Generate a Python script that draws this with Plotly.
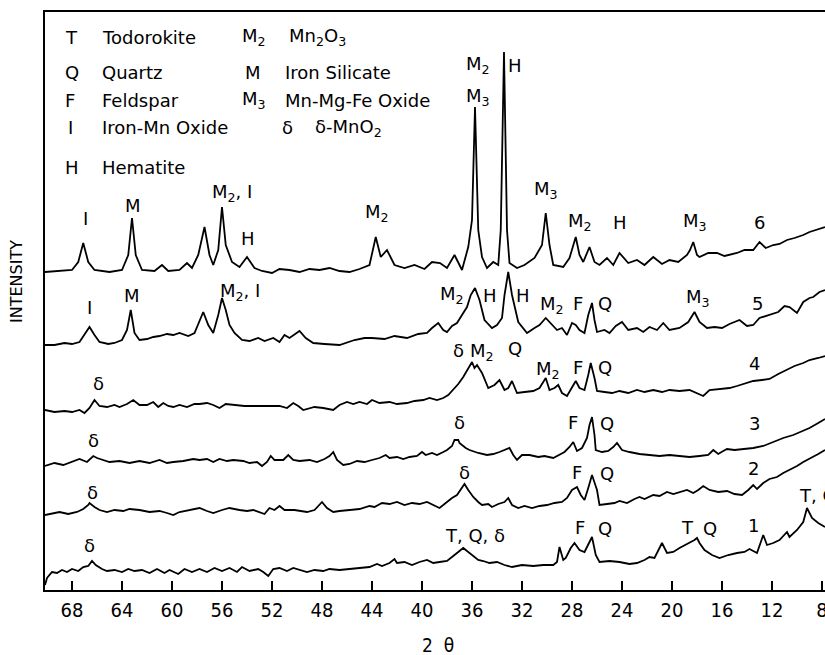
import plotly.graph_objects as go

# ---------------- data (2-theta in degrees, intensity in arbitrary stacked units) ----------------
theta_6 = [70.16, 68.96, 68.0, 67.5, 67.1, 66.7, 66.2, 65.0, 64.0, 63.5, 63.2, 62.9, 62.4, 61.4, 60.8, 60.3,
           59.4, 58.8, 58.4, 57.9, 57.4, 57.0, 56.7, 56.3, 56.0, 55.7, 55.2, 54.6, 54.0, 53.4, 52.8, 52.0,
           51.4, 50.6, 49.8, 49.0, 48.2, 47.4, 46.6, 45.8, 45.0, 44.2, 43.7, 43.3, 42.8, 42.2, 41.4, 40.6,
           39.8, 39.2, 38.56, 38.0, 37.4, 36.8, 36.3, 36.0, 35.76, 35.5, 35.2, 34.8, 34.3, 33.9, 33.7, 33.44,
           33.2, 33.0, 32.4, 31.8, 31.0, 30.4, 30.1, 29.8, 29.5, 28.7, 28.2, 27.7, 27.4, 27.1, 26.6, 26.2,
           25.8, 25.2, 24.7, 24.2, 23.5, 22.8, 22.2, 21.5, 20.8, 20.2, 19.5, 18.8, 18.56, 18.3, 18.0, 17.8,
           17.1, 16.4, 15.8, 14.8, 14.2, 13.5, 13.0, 12.5, 11.9, 11.4, 10.8, 10.2, 9.5, 9.0, 8.3, 7.76]
int_6 = [323, 324, 325, 333, 352, 333, 325, 323, 325, 340, 377, 340, 325, 324, 330, 324,
         325, 332, 327, 340, 368, 340, 330, 345, 388, 350, 333, 328, 338, 327, 324, 322,
         326, 325, 323, 326, 325, 327, 324, 323, 326, 330, 358, 338, 345, 330, 327, 330,
         326, 333, 332, 327, 340, 325, 348, 375, 488, 365, 338, 327, 333, 330, 365, 543,
         365, 332, 327, 330, 337, 350, 382, 350, 330, 328, 337, 358, 340, 333, 348, 333,
         330, 337, 330, 342, 332, 335, 330, 338, 331, 335, 333, 340, 345, 353, 340, 338,
         342, 342, 339, 342, 345, 345, 353, 347, 350, 351, 355, 357, 360, 363, 366, 368]

theta_5 = [70.16, 69.4, 68.6, 68.0, 67.4, 67.0, 66.6, 66.2, 65.8, 65.1, 64.6, 64.0, 63.6, 63.3, 63.0, 62.6,
           62.0, 61.5, 61.0, 60.4, 59.9, 59.4, 58.7, 58.2, 57.8, 57.5, 57.1, 56.7, 56.3, 56.0, 55.7, 55.4,
           55.0, 54.4, 53.8, 53.1, 52.6, 51.9, 51.4, 51.0, 50.6, 49.8, 49.3, 48.7, 47.8, 46.6, 45.4, 44.6,
           44.0, 43.0, 42.2, 41.2, 40.3, 39.6, 39.2, 38.7, 38.3, 38.0, 37.6, 37.2, 36.8, 36.4, 36.1, 35.76,
           35.4, 35.0, 34.4, 34.0, 33.6, 33.4, 33.1, 32.8, 32.3, 31.6, 31.0, 30.6, 30.1, 29.6, 29.2, 28.8,
           28.4, 28.0, 27.7, 27.4, 27.0, 26.7, 26.4, 26.2, 26.0, 25.4, 25.0, 24.5, 24.0, 23.5, 22.8, 22.3,
           21.8, 21.2, 20.7, 20.2, 19.4, 18.7, 18.2, 17.8, 17.2, 16.6, 16.0, 15.4, 14.6, 14.0, 13.5, 13.0,
           12.2, 11.5, 11.0, 10.6, 10.0, 9.5, 9.0, 8.7, 8.2, 7.76]
int_5 = [250, 250, 252, 251, 253, 260, 268, 260, 253, 251, 252, 255, 265, 285, 262, 255,
         256, 258, 259, 261, 260, 262, 259, 262, 275, 283, 270, 262, 280, 297, 285, 270,
         262, 255, 254, 257, 254, 257, 253, 260, 257, 264, 257, 252, 251, 250, 255, 257,
         257, 256, 259, 257, 261, 262, 267, 272, 265, 263, 269, 272, 280, 288, 300, 307,
         295, 275, 267, 270, 277, 300, 323, 300, 273, 262, 267, 270, 277, 270, 265, 267,
         260, 272, 270, 265, 262, 280, 292, 275, 263, 265, 262, 269, 273, 265, 267, 263,
         268, 265, 272, 265, 267, 273, 283, 273, 267, 268, 267, 271, 275, 269, 270, 277,
         280, 283, 289, 288, 282, 293, 297, 298, 303, 305]

theta_4 = [70.16, 69.4, 68.6, 68.0, 67.4, 67.0, 66.6, 66.2, 65.8, 65.2, 64.6, 64.2, 63.6, 63.1, 62.6, 62.0,
           61.5, 61.1, 60.7, 60.3, 59.9, 59.4, 58.8, 58.2, 57.8, 57.2, 56.7, 56.2, 55.7, 55.1, 54.2, 53.2,
           52.2, 51.4, 50.8, 50.3, 49.9, 49.5, 48.6, 47.9, 47.1, 46.6, 46.0, 45.5, 45.0, 44.4, 44.0, 43.4,
           42.6, 42.0, 41.2, 40.6, 39.9, 39.4, 38.8, 38.3, 37.9, 37.5, 37.1, 36.7, 36.3, 36.0, 35.8, 35.6,
           35.2, 34.7, 34.2, 33.8, 33.4, 33.1, 32.8, 32.4, 31.8, 31.1, 30.6, 30.1, 29.8, 29.4, 29.1, 28.8,
           28.4, 28.0, 27.7, 27.4, 27.0, 26.7, 26.5, 26.2, 26.0, 25.4, 24.8, 24.2, 23.5, 22.8, 22.2, 21.5,
           20.8, 20.2, 19.4, 18.6, 18.0, 17.5, 17.0, 16.2, 15.4, 14.8, 14.2, 13.5, 12.8, 12.2, 11.5, 10.8,
           10.2, 9.5, 9.0, 8.3, 7.76]
int_4 = [185, 183, 184, 183, 185, 182, 187, 195, 189, 188, 190, 188, 191, 195, 190, 190,
         193, 188, 192, 189, 188, 190, 188, 191, 191, 192, 190, 187, 191, 190, 189, 189,
         189, 189, 187, 192, 189, 185, 188, 187, 185, 190, 193, 191, 193, 191, 195, 192,
         193, 191, 192, 194, 195, 197, 195, 197, 200, 205, 211, 218, 227, 233, 227, 230,
         222, 207, 210, 215, 205, 207, 214, 202, 203, 204, 207, 217, 205, 207, 210, 202,
         199, 207, 214, 207, 205, 220, 232, 217, 204, 203, 202, 204, 202, 205, 203, 205,
         203, 205, 204, 205, 202, 199, 205, 206, 207, 209, 211, 214, 215, 216, 221, 225,
         229, 232, 235, 237, 239]

theta_3 = [70.16, 69.4, 68.7, 68.0, 67.4, 66.8, 66.3, 66.0, 65.5, 65.0, 64.2, 63.4, 62.6, 61.8, 61.0, 60.4,
           59.9, 59.1, 58.3, 57.8, 57.2, 56.7, 56.2, 55.6, 55.1, 54.3, 53.8, 53.2, 52.8, 52.4, 52.1, 51.8,
           51.1, 50.7, 50.3, 49.8, 49.0, 48.4, 47.8, 47.4, 47.1, 46.8, 46.3, 45.8, 45.2, 44.6, 44.0, 43.4,
           42.9, 42.6, 42.0, 41.5, 41.0, 40.4, 40.0, 39.7, 39.2, 38.8, 38.3, 38.0, 37.6, 37.4, 37.1, 37.0,
           36.8, 36.5, 36.2, 35.5, 34.8, 34.3, 33.8, 33.4, 33.0, 32.7, 32.4, 32.0, 31.4, 30.7, 30.2, 29.5,
           29.0, 28.6, 28.2, 27.9, 27.6, 27.2, 26.8, 26.6, 26.4, 26.2, 26.1, 25.6, 25.1, 24.7, 24.4, 24.0,
           23.4, 22.6, 21.8, 21.0, 20.2, 19.4, 18.6, 17.8, 17.1, 16.7, 16.3, 15.9, 15.6, 15.0, 14.2, 13.5,
           12.7, 11.9, 11.1, 10.3, 9.5, 9.0, 8.3, 7.76]
int_3 = [129, 132, 130, 133, 136, 133, 139, 137, 135, 133, 134, 132, 134, 132, 135, 132,
         133, 134, 136, 135, 136, 133, 136, 134, 135, 134, 132, 133, 129, 133, 139, 135,
         135, 140, 135, 134, 135, 133, 136, 139, 143, 135, 130, 131, 134, 133, 135, 137,
         140, 137, 138, 136, 138, 139, 143, 140, 142, 140, 143, 145, 149, 155, 155, 152,
         150, 147, 145, 142, 140, 141, 143, 145, 147, 140, 135, 140, 140, 138, 139, 137,
         140, 143, 148, 153, 144, 147, 157, 170, 178, 160, 145, 143, 144, 148, 152, 145,
         143, 141, 140, 139, 140, 139, 138, 139, 140, 145, 141, 144, 146, 145, 146, 147,
         149, 153, 157, 160, 164, 167, 172, 176]

theta_2 = [70.16, 69.5, 69.0, 68.3, 67.6, 67.1, 66.7, 66.6, 66.2, 65.8, 65.2, 64.6, 63.9, 63.4, 62.6, 61.8,
           61.0, 60.4, 59.9, 59.4, 58.6, 58.0, 57.8, 57.2, 56.7, 56.0, 55.4, 54.6, 54.0, 53.5, 53.0, 52.6,
           52.2, 51.8, 51.4, 51.0, 50.2, 49.2, 48.6, 48.0, 47.6, 47.1, 46.6, 45.8, 45.0, 44.2, 43.8, 43.2,
           42.6, 42.0, 41.4, 40.8, 40.2, 39.6, 39.1, 38.6, 38.0, 37.6, 37.2, 36.8, 36.6, 36.3, 35.9, 35.5,
           35.2, 34.7, 34.4, 33.9, 33.4, 33.1, 32.8, 32.3, 31.8, 31.2, 30.6, 30.0, 29.4, 28.8, 28.4, 28.0,
           27.6, 27.3, 27.0, 26.7, 26.4, 26.0, 25.8, 25.2, 24.6, 24.2, 23.6, 23.0, 22.6, 22.2, 21.5, 21.0,
           20.4, 19.9, 19.4, 18.8, 18.3, 17.9, 17.5, 17.0, 16.3, 15.6, 15.0, 14.4, 13.9, 13.5, 13.2, 12.7,
           12.2, 11.6, 11.1, 10.6, 10.0, 9.5, 9.0, 8.3, 7.76]
int_2 = [80, 82, 83, 81, 83, 86, 90, 92, 88, 85, 83, 85, 84, 86, 85, 83,
         84, 82, 80, 83, 85, 87, 87, 84, 82, 85, 87, 85, 84, 85, 83, 81,
         87, 85, 89, 85, 85, 83, 85, 93, 87, 83, 84, 85, 86, 89, 88, 92,
         91, 93, 90, 92, 91, 93, 90, 87, 93, 97, 100, 107, 111, 105, 98, 93,
         90, 91, 88, 91, 93, 97, 90, 87, 89, 87, 89, 90, 92, 93, 97, 105,
         108, 100, 95, 107, 120, 105, 90, 91, 92, 94, 92, 96, 98, 96, 100, 99,
         103, 101, 103, 105, 102, 105, 109, 105, 103, 104, 101, 100, 105, 110, 106, 112,
         116, 118, 122, 125, 129, 133, 136, 141, 145]

theta_1 = [70.16, 70.0, 69.6, 69.2, 68.8, 68.4, 68.0, 67.5, 67.1, 66.7, 66.4, 66.1, 65.6, 65.2, 64.6, 64.0,
           63.5, 63.0, 62.4, 61.8, 61.2, 60.6, 60.2, 59.5, 59.0, 58.4, 57.8, 57.2, 56.6, 56.0, 55.4, 54.8,
           54.4, 53.8, 53.1, 52.7, 52.3, 51.9, 51.4, 50.8, 50.3, 49.8, 49.2, 48.6, 47.9, 47.4, 46.6, 45.8,
           45.0, 44.2, 43.6, 43.2, 42.6, 42.2, 42.0, 41.4, 40.8, 40.2, 39.6, 39.1, 38.6, 38.0, 37.5, 37.1,
           36.7, 36.4, 36.0, 35.5, 35.1, 34.6, 34.0, 33.4, 32.8, 32.0, 31.1, 30.3, 29.5, 29.2, 29.0, 28.7,
           28.5, 28.1, 27.8, 27.4, 27.0, 26.7, 26.4, 26.1, 25.8, 25.0, 24.2, 23.4, 22.8, 22.2, 21.8, 21.4,
           20.8, 20.4, 19.9, 19.4, 18.9, 18.6, 18.2, 18.0, 17.8, 17.4, 16.8, 16.2, 15.5, 14.8, 14.2, 13.8,
           13.4, 13.2, 12.7, 12.4, 11.9, 11.4, 10.8, 10.6, 10.0, 9.5, 9.2, 8.8, 8.3, 7.76]
int_1 = [10, 17, 23, 22, 25, 23, 26, 24, 28, 29, 34, 30, 26, 24, 25, 23,
         26, 24, 25, 22, 26, 22, 25, 21, 26, 23, 26, 23, 27, 24, 27, 23,
         28, 24, 26, 23, 19, 26, 27, 24, 27, 25, 23, 25, 24, 26, 25, 26,
         27, 28, 31, 29, 32, 36, 32, 33, 30, 33, 35, 32, 33, 34, 39, 43,
         47, 44, 40, 35, 34, 32, 33, 30, 28, 30, 29, 30, 30, 33, 48, 35,
         37, 47, 52, 45, 43, 50, 58, 40, 33, 34, 33, 31, 32, 35, 38, 37,
         52, 42, 43, 47, 50, 52, 55, 57, 52, 45, 40, 37, 40, 42, 43, 46,
         43, 42, 60, 50, 52, 55, 63, 58, 65, 73, 87, 77, 72, 68]

series = [(theta_6, int_6), (theta_5, int_5), (theta_4, int_4),
          (theta_3, int_3), (theta_2, int_2), (theta_1, int_1)]

tick_vals = [68, 64, 60, 56, 52, 48, 44, 40, 36, 32, 28, 24, 20, 16, 12, 8]

# ---------------- figure ----------------
FONT = "DejaVu Sans"
TICKFONT = "Liberation Sans Narrow, DejaVu Sans Condensed, DejaVu Sans"
LBL = 18

fig = go.Figure()
for th, it in series:
    fig.add_trace(go.Scatter(x=th, y=it, mode="lines",
                             line=dict(color="black", width=1.8),
                             showlegend=False, hoverinfo="skip"))

# peak labels (text, 2theta, intensity position)
peak_labels = [
    ("I", 66.9, 377), ("M", 63.1, 390), ("M<sub>2</sub>, I", 55.2, 402), ("H", 53.9, 357),
    ("M<sub>2</sub>", 43.6, 382), ("M<sub>2</sub>", 35.5, 530), ("M<sub>3</sub>", 35.5, 498),
    ("H", 32.6, 530), ("M<sub>3</sub>", 30.1, 405), ("M<sub>2</sub>", 27.4, 373), ("H", 24.2, 373),
    ("M<sub>3</sub>", 18.2, 373), ("6", 13.0, 373),
    ("I", 66.6, 288), ("M", 63.2, 300), ("M<sub>2</sub>, I", 54.6, 303), ("M<sub>2</sub>", 37.6, 300),
    ("H", 34.6, 300), ("H", 31.9, 300), ("M<sub>2</sub>", 29.6, 290), ("F", 27.5, 292), ("Q", 25.4, 292),
    ("M<sub>3</sub>", 17.9, 297), ("5", 13.2, 292),
    ("δ", 65.9, 212), ("δ", 37.1, 245), ("M<sub>2</sub>", 35.2, 243), ("Q", 32.6, 247),
    ("M<sub>2</sub>", 29.9, 225), ("F", 27.5, 228), ("Q", 25.4, 228), ("4", 13.4, 232),
    ("δ", 66.3, 155), ("δ", 37.0, 173), ("F", 27.9, 173), ("Q", 25.2, 172), ("3", 13.4, 172),
    ("δ", 66.4, 103), ("δ", 36.6, 123), ("F", 27.6, 123), ("Q", 25.2, 122), ("2", 13.5, 127),
    ("δ", 66.6, 50), ("T, Q, δ", 35.8, 60), ("F", 27.4, 68), ("Q", 25.4, 67),
    ("T", 18.8, 68), ("Q", 17.0, 67), ("1", 13.5, 70),
]
annotations = []
for txt, xx, yy in peak_labels:
    annotations.append(dict(text=txt, x=xx, y=yy, xref="x", yref="y", showarrow=False,
                            font=dict(family=FONT, size=LBL, color="black"),
                            xanchor="center", yanchor="middle"))
annotations.append(dict(text="T, G", x=10.0, y=100, xref="x", yref="y", showarrow=False,
                        font=dict(family=FONT, size=LBL, color="black"),
                        xanchor="left", yanchor="middle"))

# plot area in page pixels
PL, PR, PT, PB = 45, 825, 12, 590
def px(xp):
    return (xp - PL) / (PR - PL)
def py(yp):
    return (PB - yp) / (PB - PT)

key_rows = [
    (37, [("T", 63), ("Todorokite", 100), ("M<sub>2</sub>", 240), ("Mn<sub>2</sub>O<sub>3</sub>", 287)]),
    (72, [("Q", 63), ("Quartz", 100), ("M", 243), ("Iron Silicate", 283)]),
    (100, [("F", 63), ("Feldspar", 100), ("M<sub>3</sub>", 240), ("Mn-Mg-Fe Oxide", 283)]),
    (128, [("I", 66), ("Iron-Mn Oxide", 100), ("δ", 280), ("δ-MnO<sub>2</sub>", 313)]),
    (167, [("H", 63), ("Hematite", 100)]),
]
for yp, items in key_rows:
    for txt, xp in items:
        annotations.append(dict(text=txt, x=px(xp), y=py(yp), xref="paper", yref="paper",
                                showarrow=False, xanchor="left", yanchor="middle",
                                font=dict(family=FONT, size=LBL, color="black")))

annotations.append(dict(text="2  θ", x=px(438), y=py(645), xref="paper", yref="paper",
                        showarrow=False, xanchor="center", yanchor="middle",
                        font=dict(family=TICKFONT, size=19, color="black")))
annotations.append(dict(text="INTENSITY", x=px(16), y=py(282), xref="paper", yref="paper",
                        showarrow=False, textangle=-90, xanchor="center", yanchor="middle",
                        font=dict(family=FONT, size=16, color="black")))

W, H = 825, 655
fig.update_layout(
    width=W, height=H,
    margin=dict(l=PL, r=W - PR, t=PT, b=H - PB, pad=0, autoexpand=False),
    paper_bgcolor="white", plot_bgcolor="white",
    annotations=annotations,
    xaxis=dict(range=[70.16, 7.76], tickvals=tick_vals, ticktext=[str(v) for v in tick_vals],
               ticks="inside", ticklen=9, tickwidth=2, tickcolor="black",
               showline=True, linewidth=2, linecolor="black", mirror=True,
               showgrid=False, zeroline=False, automargin=False, ticklabeloverflow="allow",
               tickfont=dict(family=TICKFONT, size=20, color="black"), ticklabelstandoff=1),
    yaxis=dict(range=[5, 583], showticklabels=False, ticks="",
               showline=True, linewidth=2, linecolor="black",
               showgrid=False, zeroline=False, automargin=False),
)

# remove the browser's default 8 px body margin so the figure fills the window exactly
fig.write_html("out.html",
               config={"displayModeBar": False, "staticPlot": True},
               post_script="document.body.style.margin='0px';document.body.style.overflow='hidden';")
